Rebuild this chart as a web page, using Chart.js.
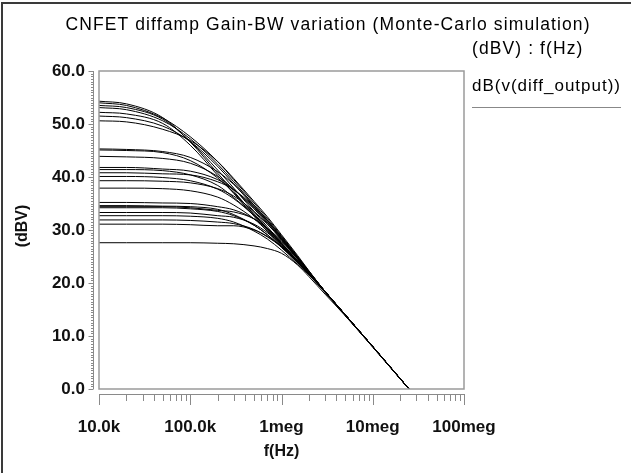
<!DOCTYPE html>
<html>
<head>
<meta charset="utf-8">
<script src="https://cdn.jsdelivr.net/npm/chart.js@4.4.1/dist/chart.umd.min.js"></script>
<style>
  html, body { margin: 0; padding: 0; background: #fff; overflow: hidden; }
  #wrap { position: relative; width: 631px; height: 473px; }
  canvas { display: block; }
</style>
</head>
<body>
<div id="wrap"><canvas id="c" width="631" height="473"></canvas></div>
<script>
// ---- data ----
const titleText = "CNFET diffamp Gain-BW variation (Monte-Carlo simulation)";
const axisInfoText = "(dBV) : f(Hz)";
const seriesName = "dB(v(diff_output))";
const yAxisTitle = "(dBV)";
const xAxisTitle = "f(Hz)";

const freqs = [1e4, 2e4, 5e4, 1e5, 2e5, 3e5, 5e5, 7e5, 1e6, 1.5e6, 2e6, 3e6, 5e6, 1e7, 3e7];

const xTickValues = [1e4, 1e5, 1e6, 1e7, 1e8];
const xTickLabels = ["10.0k", "100.0k", "1meg", "10meg", "100meg"];
const yTickValues = [0, 10, 20, 30, 40, 50, 60];
const yTickLabels = ["0.0", "10.0", "20.0", "30.0", "40.0", "50.0", "60.0"];

const run01 = [54.3, 53.8, 51.2, 46.6, 40.7, 37.3, 32.9, 30.0, 27.1, 23.9, 21.7, 18.4, 14.0, 8.0, -1.6];
const run02 = [54.0, 53.5, 51.1, 47.6, 42.9, 39.5, 35.1, 32.2, 28.9, 25.0, 22.2, 18.4, 14.0, 8.0, -1.6];
const run03 = [53.5, 53.1, 50.9, 46.7, 41.3, 37.9, 33.5, 30.6, 27.6, 24.2, 21.8, 18.4, 14.0, 8.0, -1.6];
const run04 = [53.1, 52.7, 50.6, 47.2, 42.4, 39.1, 34.7, 31.8, 28.5, 24.8, 22.1, 18.4, 14.0, 8.0, -1.6];
const run05 = [52.2, 51.9, 50.1, 46.0, 40.3, 36.9, 32.6, 29.7, 26.9, 23.8, 21.6, 18.4, 14.0, 8.0, -1.6];
const run06 = [51.5, 51.2, 49.6, 46.7, 42.0, 38.7, 34.4, 31.5, 28.3, 24.7, 22.0, 18.4, 14.0, 8.0, -1.6];
const run07 = [50.6, 50.4, 49.0, 46.9, 42.9, 39.7, 35.4, 32.5, 29.1, 25.2, 22.3, 18.4, 14.0, 8.0, -1.6];
const run08 = [45.3, 45.2, 44.8, 43.7, 41.0, 38.6, 34.7, 31.9, 28.7, 24.9, 22.2, 18.4, 14.0, 8.0, -1.6];
const run09 = [45.1, 45.0, 44.6, 43.1, 39.8, 37.0, 33.1, 30.3, 27.4, 24.1, 21.8, 18.4, 14.0, 8.0, -1.6];
const run10 = [43.9, 43.8, 43.5, 42.6, 40.1, 37.7, 34.0, 31.2, 28.2, 24.6, 22.0, 18.4, 14.0, 8.0, -1.6];
const run11 = [41.8, 41.8, 41.5, 41.1, 39.5, 37.6, 34.1, 31.5, 28.4, 24.8, 22.1, 18.4, 14.0, 8.0, -1.6];
const run12 = [41.4, 41.4, 41.2, 40.4, 38.4, 36.1, 32.8, 30.2, 27.4, 24.2, 21.8, 18.4, 14.0, 8.0, -1.6];
const run13 = [40.8, 40.8, 40.6, 40.4, 39.1, 37.6, 34.4, 31.8, 28.7, 24.9, 22.2, 18.4, 14.0, 8.0, -1.6];
const run14 = [40.1, 40.1, 39.9, 39.3, 37.7, 35.9, 32.7, 30.3, 27.5, 24.2, 21.8, 18.4, 14.0, 8.0, -1.6];
const run15 = [39.3, 39.3, 39.2, 38.9, 37.8, 36.4, 33.5, 31.1, 28.2, 24.6, 22.1, 18.4, 14.0, 8.0, -1.6];
const run16 = [37.9, 37.9, 37.8, 37.4, 36.2, 34.7, 32.1, 29.8, 27.2, 24.0, 21.7, 18.4, 14.0, 8.0, -1.6];
const run17 = [35.2, 35.2, 35.1, 35.0, 34.4, 33.8, 32.1, 30.2, 27.8, 24.5, 21.9, 18.4, 13.9, 8.0, -1.6];
const run18 = [34.6, 34.6, 34.5, 34.4, 33.9, 32.9, 30.9, 29.1, 26.7, 23.8, 21.6, 18.3, 13.9, 8.0, -1.6];
const run19 = [34.4, 34.4, 34.4, 34.2, 33.7, 33.4, 32.1, 30.3, 28.0, 24.5, 22.0, 18.4, 13.9, 8.0, -1.6];
const run20 = [34.2, 34.2, 34.2, 34.0, 33.5, 32.7, 30.9, 29.1, 26.8, 23.9, 21.6, 18.3, 13.9, 8.0, -1.6];
const run21 = [33.3, 33.3, 33.3, 33.2, 32.7, 32.4, 31.1, 29.5, 27.3, 24.2, 21.8, 18.4, 13.9, 8.0, -1.6];
const run22 = [32.7, 32.7, 32.7, 32.6, 32.2, 31.5, 29.8, 28.3, 26.2, 23.5, 21.5, 18.3, 13.9, 8.0, -1.6];
const run23 = [31.9, 31.9, 31.9, 31.8, 31.5, 31.2, 30.1, 28.7, 26.8, 23.9, 21.6, 18.2, 13.9, 8.0, -1.6];
const run24 = [31.1, 31.1, 31.1, 31.0, 30.8, 30.8, 30.0, 28.8, 26.9, 24.0, 21.6, 18.3, 13.9, 7.9, -1.6];
const run25 = [27.6, 27.6, 27.6, 27.6, 27.5, 27.4, 27.0, 26.5, 25.6, 23.4, 21.2, 17.9, 13.8, 7.9, -1.6];

const runs = [run01, run02, run03, run04, run05, run06, run07, run08, run09, run10,
              run11, run12, run13, run14, run15, run16, run17, run18, run19, run20,
              run21, run22, run23, run24, run25];

// ---- chart ----
const FONT = "'Liberation Sans', Arial, Helvetica, sans-serif";

const datasets = runs.map((r, k) => ({
  label: seriesName + " #" + (k + 1),
  data: freqs.map((f, i) => ({ x: f, y: r[i] })),
  borderColor: '#000',
  borderWidth: 1,
  pointRadius: 0,
  fill: false,
  cubicInterpolationMode: 'monotone'
}));

const decorPlugin = {
  id: 'decor',
  afterDraw(chart) {
    const ctx = chart.ctx;
    const a = chart.chartArea;
    const xs = chart.scales.x, ys = chart.scales.y;
    ctx.save();
    // outer frame
    ctx.fillStyle = '#3a3a3a';
    ctx.fillRect(1, 2, 2, 471);
    ctx.fillRect(1, 2, 630, 2);

    // plot box
    ctx.strokeStyle = '#9a9a9a';
    ctx.lineWidth = 1.5;
    ctx.strokeRect(a.left, a.top, a.right - a.left, a.bottom - a.top);

    // separate y axis line with ticks
    const yAxisX = a.left - 6;
    ctx.strokeStyle = '#8a8a8a';
    ctx.lineWidth = 1;
    ctx.beginPath();
    ctx.moveTo(yAxisX + 0.5, ys.getPixelForValue(60));
    ctx.lineTo(yAxisX + 0.5, ys.getPixelForValue(0));
    for (let v = 0; v <= 60; v += 0.5) {
      const p = Math.round(ys.getPixelForValue(v)) + 0.5;
      const len = (v % 10 === 0) ? 5 : 2.5;
      ctx.moveTo(yAxisX + 0.5, p);
      ctx.lineTo(yAxisX + 0.5 - len, p);
    }
    ctx.stroke();

    // separate x axis line with ticks
    const xAxisY = a.bottom + 5;
    ctx.beginPath();
    ctx.moveTo(xs.getPixelForValue(1e4), xAxisY + 0.5);
    ctx.lineTo(xs.getPixelForValue(1e8), xAxisY + 0.5);
    for (let d = 1e4; d < 1e8 * 1.01; d *= 10) {
      for (let m = 1; m <= 9; m++) {
        const v = d * m;
        if (v > 1e8 * 1.001) break;
        const p = Math.round(xs.getPixelForValue(v)) + 0.5;
        const len = (m === 1) ? 11 : 7;
        ctx.moveTo(p, xAxisY);
        ctx.lineTo(p, xAxisY + len);
      }
    }
    ctx.stroke();

    // texts
    ctx.fillStyle = '#000';
    ctx.textBaseline = 'middle';
    ctx.font = "17.5px " + FONT;
    try { ctx.letterSpacing = '1.1px'; } catch (e) {}
    ctx.textAlign = 'center';
    ctx.fillText(titleText, 328, 25);
    ctx.textAlign = 'left';
    ctx.fillText(axisInfoText, 472, 49);
    ctx.font = "17px " + FONT;
    try { ctx.letterSpacing = '1px'; } catch (e) {}
    ctx.fillText(seriesName, 472, 86);
    try { ctx.letterSpacing = '0px'; } catch (e) {}

    // legend underline
    ctx.strokeStyle = '#888';
    ctx.lineWidth = 1;
    ctx.beginPath();
    ctx.moveTo(472, 107.5);
    ctx.lineTo(621, 107.5);
    ctx.stroke();

    // axis titles
    ctx.fillStyle = '#111';
    ctx.font = "bold 16px " + FONT;
    ctx.textAlign = 'center';
    ctx.fillText(xAxisTitle, xs.getPixelForValue(1e6), 452);
    ctx.save();
    ctx.translate(23, 226);
    ctx.rotate(-Math.PI / 2);
    ctx.fillText(yAxisTitle, 0, 0);
    ctx.restore();

    ctx.restore();
  }
};

new Chart(document.getElementById('c'), {
  type: 'line',
  data: { datasets },
  options: {
    responsive: false,
    animation: false,
    devicePixelRatio: 1,
    layout: { padding: { top: 71, right: 167, left: 0, bottom: 0 } },
    plugins: { legend: { display: false }, tooltip: { enabled: false }, title: { display: false } },
    scales: {
      x: {
        type: 'logarithmic',
        min: 1e4,
        max: 1e8,
        afterFit(s) { s.height = 84; },
        afterBuildTicks(s) { s.ticks = xTickValues.map(v => ({ value: v })); },
        grid: { display: false, drawTicks: false },
        border: { display: false },
        ticks: {
          autoSkip: false,
          maxRotation: 0,
          padding: 28,
          color: '#111',
          font: { family: FONT, size: 17, weight: 'bold' },
          callback(v) { const i = xTickValues.indexOf(v); return i >= 0 ? xTickLabels[i] : ''; }
        }
      },
      y: {
        type: 'linear',
        min: 0,
        max: 60,
        afterFit(s) { s.width = 99; },
        afterBuildTicks(s) { s.ticks = yTickValues.map(v => ({ value: v })); },
        grid: { display: false, drawTicks: false },
        border: { display: false },
        ticks: {
          padding: 14,
          color: '#111',
          font: { family: FONT, size: 17, weight: 'bold' },
          callback(v) { const i = yTickValues.indexOf(v); return i >= 0 ? yTickLabels[i] : ''; }
        }
      }
    }
  },
  plugins: [decorPlugin]
});
</script>
</body>
</html>
